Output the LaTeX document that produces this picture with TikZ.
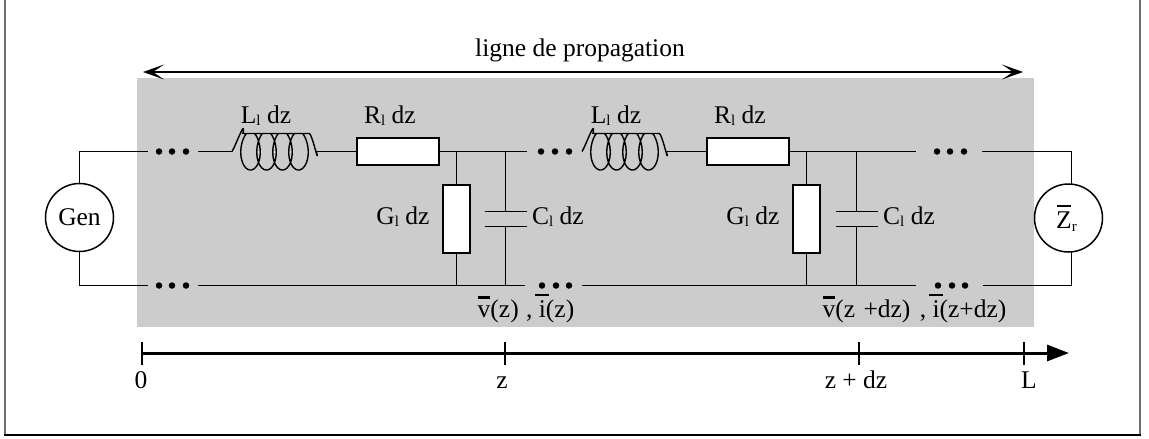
\documentclass[tikz,border=0pt]{standalone}
\usepackage{fontspec}
\setmainfont{Liberation Serif}
\usetikzlibrary{arrows.meta, positioning}
\definecolor{BandColor}{RGB}{204,204,204}
\definecolor{FrameColor}{RGB}{110,110,110}
\tikzstyle{wire} = [line width=1.2pt, black]
\tikzstyle{resistor} = [rectangle, draw, line width=1.8pt, fill=white, inner sep=0pt]
\tikzstyle{dot} = [circle, fill=black, inner sep=0pt, minimum size=6.5pt]
\tikzstyle{load} = [circle, draw, line width=1.5pt, fill=white, inner sep=0pt, minimum size=68pt]
\tikzstyle{tick} = [line width=1.8pt, black]
\tikzset{
  coilpath/.style={line width=1.4pt, black, line join=round},
  label/.style={inner sep=0pt, anchor=base, font=\fontsize{25.5}{28}\selectfont},
  axis line/.style={line width=3pt, black, -{Triangle[length=22pt,width=16pt]}},
  span line/.style={line width=1.8pt, black, {Stealth[length=21pt,width=15pt,inset=11pt]}-{Stealth[length=21pt,width=15pt,inset=11pt]}}
}
\newcommand{\subl}{\raisebox{-2.5pt}{\fontsize{15}{15}\selectfont l}}
\newcommand{\barred}[3]{\sbox0{#3}\makebox[0pt][l]{\makebox[\wd0][c]{\rule[#1]{#2}{2.2pt}}}#3}
% one coil, between two coordinates 85pt apart
\newcommand{\coil}[2]{
  \draw[coilpath] (#1,#2) .. controls +(3,-4) and +(3,-17) .. ++(11,-18)
    -- plot[samples=220, domain=0:1440] ({#1+10.5+\x/360*16+13.5*sin(\x)},{#2+max(-18,-3.5-22*cos(\x))})
    -- ++(3,0) .. controls +(3,2) and +(3,16) .. ++(7,18);
}
\begin{document}
\begin{tikzpicture}[x=1pt,y=-1pt]
\useasboundingbox (0,0) rectangle (1149,439);
% Frame and band
\draw[FrameColor, line width=2pt] (5,-5) -- (5,435);
\draw[FrameColor, line width=2pt] (1140,-5) -- (1140,435);
\draw[black, line width=1.3pt] (4,435) -- (1141,435);
\fill[BandColor] (137,78) rectangle (1034,327);

% Source and load
\node[load] (gen) at (79.5,217.5) {\fontsize{25.5}{28}\selectfont Gen};
\node[load] (zr) at (1068.5,218) {\fontsize{25.5}{28}\selectfont\barred{21pt}{14pt}{Z}\raisebox{-3pt}{\fontsize{15}{15}\selectfont r}\hspace*{4pt}};
\coordinate (zrtop) at (1071.5,184);
\coordinate (zrbot) at (1071.5,252);

% Series elements
\node[resistor, minimum width=82pt, minimum height=27pt] (rone) at (398,151.5) {};
\node[resistor, minimum width=82pt, minimum height=27pt] (rtwo) at (748,151.5) {};
\coordinate (lonein) at (232,151.5);
\coordinate (loneout) at (316.5,151.5);
\coordinate (ltwoin) at (582,151.5);
\coordinate (ltwoout) at (666.5,151.5);
\coil{232}{151.5}
\coil{582}{151.5}

% Shunt elements
\node[resistor, minimum width=27pt, minimum height=68pt] (gone) at (456.5,219) {};
\node[resistor, minimum width=27pt, minimum height=68pt] (gtwo) at (806.5,219) {};
\coordinate (cone) at (505.5,151.5);
\coordinate (conebot) at (505.5,285.5);
\coordinate (ctwo) at (856.5,151.5);
\coordinate (ctwobot) at (856.5,285.5);
\coordinate (capa) at (505.5,211.5);
\coordinate (capb) at (505.5,226.5);
\coordinate (capc) at (856.5,211.5);
\coordinate (capd) at (856.5,226.5);

% Dots
\foreach \name/\x/\y in {a/159/151.5, b/172/151.5, c/186/151.5, d/541/151.5, e/555/151.5, f/569/151.5, g/937/151.5, h/950/151.5, i/964/151.5,
  j/159/285.5, k/172/285.5, l/186/285.5, m/542/285.5, n/556/285.5, o/569/285.5, p/938/285.5, q/952/285.5, r/965/285.5}
  \node[dot] (dot\name) at (\x,\y) {};

% Wires
\coordinate (topa) at (148,151.5);
\coordinate (topb) at (198,151.5);
\coordinate (topc) at (527,151.5);
\coordinate (topd) at (916,151.5);
\coordinate (tope) at (982,151.5);
\coordinate (bota) at (148,285.5);
\coordinate (botb) at (198,285.5);
\coordinate (botc) at (525,285.5);
\coordinate (botd) at (582,285.5);
\coordinate (bote) at (916,285.5);
\coordinate (botf) at (983,285.5);
\draw[wire] (gen) |- (topa);
\draw[wire] (topb) -- (lonein);
\draw[wire] (loneout) -- (rone);
\draw[wire] (rone) -- (topc);
\draw[wire] (ltwoout) -- (rtwo);
\draw[wire] (rtwo) -- (topd);
\draw[wire] (tope) -| (zrtop);
\draw[wire] (gen) |- (bota);
\draw[wire] (botb) -- (botc);
\draw[wire] (botd) -- (bote);
\draw[wire] (botf) -| (zrbot);
\draw[wire] (gone.north) -- (gone.north |- cone);
\draw[wire] (gone.south) -- (gone.south |- conebot);
\draw[wire] (gtwo.north) -- (gtwo.north |- ctwo);
\draw[wire] (gtwo.south) -- (gtwo.south |- ctwobot);
\draw[wire] (cone) -- (capa);
\draw[wire] (capb) -- (conebot);
\draw[wire] (ctwo) -- (capc);
\draw[wire] (capd) -- (ctwobot);
\draw[wire] ([xshift=-21pt]capa) -- ([xshift=21pt]capa);
\draw[wire] ([xshift=-21pt]capb) -- ([xshift=21pt]capb);
\draw[wire] ([xshift=-21pt]capc) -- ([xshift=21pt]capc);
\draw[wire] ([xshift=-21pt]capd) -- ([xshift=21pt]capd);

% Labels
\node[label] (title) at (580,56) {ligne de propagation};
\node[label] (lonetext) at (266,123) {L\subl{} dz};
\node[label] (ronetext) at (390,123) {R\subl{} dz};
\node[label] (ltwotext) at (616,123) {L\subl{} dz};
\node[label] (rtwotext) at (740,123) {R\subl{} dz};
\node[label] (gonetext) at (403,224) {G\subl{} dz};
\node[label] (conetext) at (558,224) {C\subl{} dz};
\node[label] (gtwotext) at (753,224) {G\subl{} dz};
\node[label] (ctwotext) at (909,224) {C\subl{} dz};
\node[label] (vone) at (526,317) {\barred{18.5pt}{12pt}{v}(z)\hspace{1pt} , \barred{21pt}{14pt}{i}(z)};
\node[label] (vtwo) at (914.5,317) {\barred{18.5pt}{12pt}{v}(z\hspace{2pt} +dz)\hspace{3pt} , \barred{21pt}{14pt}{i}(z+dz)};

% Span of the line
\coordinate (spana) at (143,72);
\coordinate (spanb) at (1023,72);
\draw[span line] (spana) -- (spanb);

% Axis
\coordinate (axa) at (142,353);
\coordinate (axb) at (1069,353);
\draw[axis line] (axa) -- (axb);
\foreach \name/\x/\txt/\tx in {zero/142/0/141, pos/505/z/502, next/859/z + dz/856, end/1024/L/1029} {
  \coordinate (tick\name) at (\x,353);
  \draw[tick] ([yshift=-11.5pt]tick\name) -- ([yshift=11.5pt]tick\name);
  \node[label] (txt\name) at (\tx,388) {\txt};
}
\end{tikzpicture}
\end{document}
